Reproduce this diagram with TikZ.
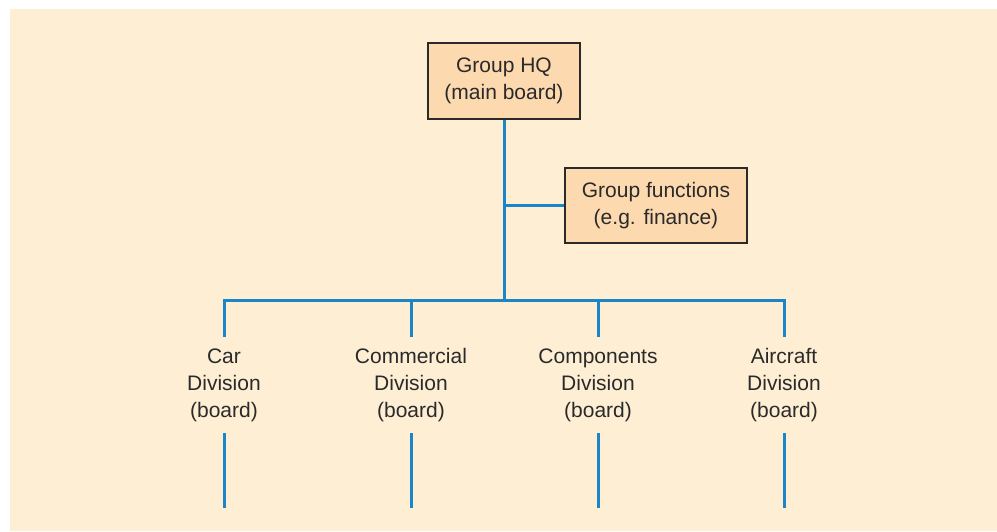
\documentclass[tikz,border=0pt]{standalone}
\usepackage{fontspec}
\setmainfont{Liberation Sans}
\usetikzlibrary{positioning}
\definecolor{bgpeach}{HTML}{FEEFD4}
\definecolor{boxpeach}{HTML}{FDD9B0}
\definecolor{linkblue}{HTML}{1A86C8}
\definecolor{inkgrey}{HTML}{2A2A2A}
\tikzset{
  board/.style={draw=inkgrey, line width=1.2pt, fill=boxpeach, align=center,
    text=inkgrey, font=\fontsize{21}{27}\selectfont, inner sep=0pt},
  division/.style={align=center, text=inkgrey, font=\fontsize{21}{27}\selectfont,
    minimum height=96pt, inner sep=0pt},
  link/.style={draw=linkblue, line width=3pt}
}
\begin{document}
\begin{tikzpicture}[x=1pt,y=-1pt]
    \useasboundingbox (0,0) rectangle (997,531);
    \fill[bgpeach] (10,9) rectangle (997,531);

    % boards at the top
    \node[board, minimum width=152pt, minimum height=76pt] (hq) at (504,81) {Group HQ\\(main board)};
    \node[board, minimum width=182pt, minimum height=75pt] (fn) at (656,205.5) {Group functions\\(e.g. finance)};

    % divisions
    \node[division] (car) at (224,385) {Car\\Division\\(board)};
    \node[division] (com) at (411,385) {Commercial\\Division\\(board)};
    \node[division] (cmp) at (598,385) {Components\\Division\\(board)};
    \node[division] (air) at (784,385) {Aircraft\\Division\\(board)};

    \coordinate (bus) at (504,300);
    \coordinate (foot) at (504,508);

    \draw[link] (hq.south) -- (bus);
    \draw[link] (hq.south |- fn.west) -- (fn.west);
    \draw[link] (car.north) -- (car.north |- bus) -- (air.north |- bus) -- (air.north);
    \foreach \d in {com,cmp}
        \draw[link] (\d.north |- bus) -- (\d.north);
    \foreach \d in {car,com,cmp,air}
        \draw[link] (\d.south) -- (\d.south |- foot);
\end{tikzpicture}
\end{document}
